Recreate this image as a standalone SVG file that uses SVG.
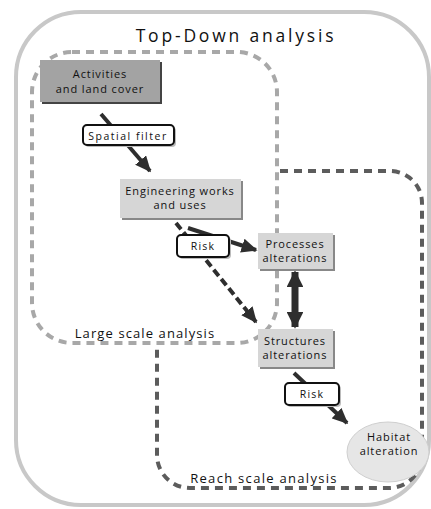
<svg xmlns="http://www.w3.org/2000/svg" width="431" height="509" viewBox="0 0 431 509">
<defs>
<style>
.t{font-family:"Open Sans","DejaVu Sans",sans-serif;fill:#111;text-anchor:middle}
.n{font-size:11px;letter-spacing:0.9px}
.box{stroke:none}
.lbl{fill:#fff;stroke:#111;stroke-width:2}
.ar{stroke:#2e2e2e;stroke-width:4;fill:none}
</style>
<marker id="ah" viewBox="0 0 10 10" refX="9" refY="5" markerWidth="4" markerHeight="3.6" markerUnits="strokeWidth" orient="auto" preserveAspectRatio="none">
<path d="M0,0 L10,5 L0,10 Z" fill="#2e2e2e"/>
</marker>
<marker id="ah2" viewBox="0 0 10 10" refX="9" refY="5" markerWidth="2.4" markerHeight="2.4" markerUnits="strokeWidth" orient="auto-start-reverse">
<path d="M0,0 L10,5 L0,10 Z" fill="#2e2e2e"/>
</marker>
</defs>
<rect width="431" height="509" fill="#fff"/>
<g id="top-down">
<rect x="16" y="12" width="413" height="493" rx="65" fill="none" stroke="#c8c8c8" stroke-width="4"/>
<text class="t" x="236" y="42" font-size="17.5" letter-spacing="2.8">Top-Down analysis</text>
</g>
<g id="reach-scale">
<path d="M280,171 H390 A32,32 0 0 1 422,203 V455 A33,33 0 0 1 389,488 H190 A33,33 0 0 1 157,455 V345" fill="none" stroke="#5c5c5c" stroke-width="4" stroke-dasharray="8 6"/>
<text class="t" x="264" y="483" font-size="13" letter-spacing="1.3">Reach scale analysis</text>
</g>
<g id="large-scale">
<rect x="32" y="52" width="245" height="291" rx="40" fill="none" stroke="#a8a8a8" stroke-width="4" stroke-dasharray="8 6"/>
<text class="t" x="145" y="338" font-size="13" letter-spacing="1.1">Large scale analysis</text>
</g>
<g id="connectors">
<line class="ar" x1="101" y1="114" x2="150" y2="171" marker-end="url(#ah)"/>
<line class="ar" x1="188" y1="228" x2="256" y2="250" marker-end="url(#ah)"/>
<line class="ar" x1="176" y1="223" x2="256" y2="322" stroke-width="4.5" stroke-dasharray="8 4" marker-end="url(#ah)"/>
<line class="ar" x1="294" y1="373" x2="347" y2="423" marker-end="url(#ah)"/>
<line x1="295" y1="272" x2="295" y2="327" stroke="#2e2e2e" stroke-width="7" marker-start="url(#ah2)" marker-end="url(#ah2)"/>
</g>
<g id="activities">
<rect x="42" y="62" width="120" height="42" fill="#444"/>
<rect class="box" x="40" y="60" width="120" height="42" fill="#a3a3a3"/>
<text class="t n" x="100" y="78">Activities</text>
<text class="t n" x="100" y="93">and land cover</text>
</g>
<g id="engineering">
<rect x="122" y="181" width="121" height="39" fill="#888"/>
<rect class="box" x="120" y="179" width="121" height="39" fill="#d6d6d6"/>
<text class="t n" x="180" y="195">Engineering works</text>
<text class="t n" x="180" y="209">and uses</text>
</g>
<g id="processes">
<rect x="260" y="235" width="75" height="36" fill="#888"/>
<rect class="box" x="258" y="233" width="75" height="36" fill="#d6d6d6"/>
<text class="t n" x="295" y="248">Processes</text>
<text class="t n" x="295" y="262">alterations</text>
</g>
<g id="structures">
<rect x="260" y="331" width="75" height="38" fill="#888"/>
<rect class="box" x="258" y="329" width="75" height="38" fill="#d6d6d6"/>
<text class="t n" x="295" y="345">Structures</text>
<text class="t n" x="295" y="359">alterations</text>
</g>
<g id="habitat">
<ellipse cx="388" cy="452" rx="41" ry="30" fill="#e6e6e6" stroke="#cfcfcf" stroke-width="1"/>
<text class="t n" x="389" y="441">Habitat</text>
<text class="t n" x="389" y="455">alteration</text>
</g>
<g id="label-spatial">
<rect x="85" y="127" width="91" height="20" rx="4" fill="#bbb"/>
<rect class="lbl" x="83" y="125" width="91" height="20" rx="4"/>
<text class="t" x="128" y="139.5" font-size="10.5" letter-spacing="1.5">Spatial filter</text>
</g>
<g id="label-risk1">
<rect x="179" y="237" width="52" height="22" rx="4" fill="#bbb"/>
<rect class="lbl" x="177" y="235" width="52" height="22" rx="4"/>
<text class="t" x="203" y="250" font-size="10.5" letter-spacing="1.2">Risk</text>
</g>
<g id="label-risk2">
<rect x="287" y="385" width="54" height="22" rx="4" fill="#bbb"/>
<rect class="lbl" x="285" y="383" width="54" height="22" rx="4"/>
<text class="t" x="312" y="398" font-size="10.5" letter-spacing="1.2">Risk</text>
</g>
</svg>
